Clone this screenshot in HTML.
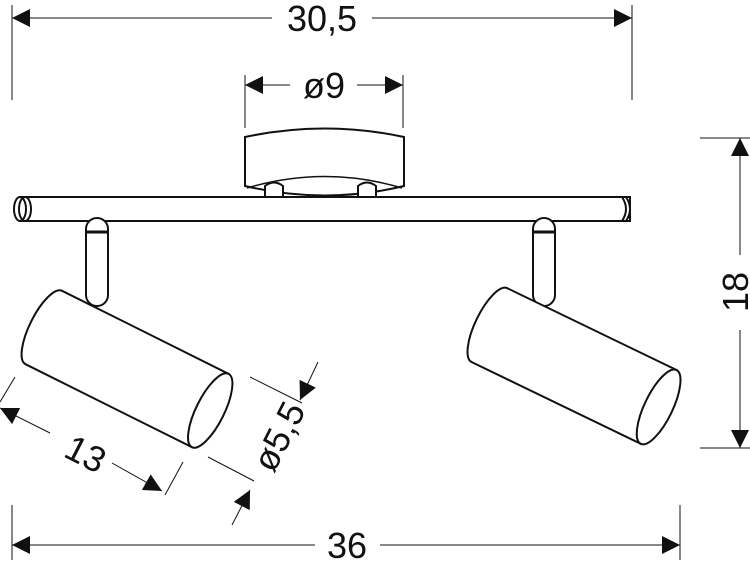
<!DOCTYPE html>
<html><head><style>body{margin:0;background:#fff}svg{display:block}text{font-family:"Liberation Sans",sans-serif;font-size:36px;fill:#111}</style></head>
<body>
<svg width="750" height="566" viewBox="0 0 750 566" xmlns="http://www.w3.org/2000/svg">
<defs>
<marker id="a" viewBox="0 0 10 10" refX="10" refY="5" markerWidth="22" markerHeight="18" markerUnits="userSpaceOnUse" orient="auto-start-reverse"><path d="M0,0L10,5L0,10z" fill="#111"/></marker>
</defs>
<g stroke="#111" stroke-width="1" fill="none">
<line x1="12" y1="5" x2="12" y2="100"/><line x1="632" y1="5" x2="632" y2="100"/>
<line x1="12" y1="18" x2="272" y2="18" marker-start="url(#a)"/>
<line x1="372" y1="18" x2="632" y2="18" marker-end="url(#a)"/>
<line x1="245" y1="75" x2="245" y2="128"/><line x1="403" y1="75" x2="403" y2="128"/>
<line x1="245" y1="85" x2="290" y2="85" marker-start="url(#a)"/>
<line x1="357" y1="85" x2="403" y2="85" marker-end="url(#a)"/>
<line x1="700" y1="138" x2="750" y2="138"/><line x1="700" y1="448" x2="750" y2="448"/>
<line x1="740" y1="138" x2="740" y2="255" marker-start="url(#a)"/>
<line x1="740" y1="330" x2="740" y2="448" marker-end="url(#a)"/>
<line x1="12" y1="505" x2="12" y2="560"/><line x1="680" y1="505" x2="680" y2="560"/>
<line x1="12" y1="545" x2="315" y2="545" marker-start="url(#a)"/>
<line x1="380" y1="545" x2="680" y2="545" marker-end="url(#a)"/>
<line x1="15" y1="377" x2="0" y2="402"/><line x1="183" y1="462" x2="165" y2="495"/>
<line x1="0" y1="408" x2="50" y2="433" marker-start="url(#a)"/>
<line x1="112" y1="463" x2="162" y2="491" marker-end="url(#a)"/>
<line x1="250" y1="377" x2="302" y2="403"/><line x1="208" y1="457" x2="254" y2="481"/>
<line x1="318" y1="362" x2="300" y2="400" marker-end="url(#a)"/>
<line x1="232" y1="525" x2="250" y2="490" marker-end="url(#a)"/>
</g>
<text x="322" y="31" text-anchor="middle">30,5</text>
<text x="324" y="98" text-anchor="middle">ø9</text>
<text x="347" y="558" text-anchor="middle">36</text>
<text transform="translate(748,292) rotate(-90)" text-anchor="middle">18</text>
<text transform="translate(80,465) rotate(27)" text-anchor="middle">13</text>
<text transform="translate(290,442) rotate(-63)" text-anchor="middle">ø5,5</text>
<g stroke="#111" stroke-width="2" fill="#fff">
<path d="M245,137 Q325,120 404,137 L404,186 Q325,205 245,186 Z"/>
<path d="M247,188 Q325,165 402,188" stroke-width="1.5" fill="none"/>
<path d="M265,197 L265,186 Q274,179 283,186 L283,197"/>
<path d="M358,197 L358,186 Q367,179 376,186 L376,197"/>
<rect x="20" y="197" width="610" height="24"/>
<ellipse cx="20" cy="209" rx="6" ry="12"/>
<ellipse cx="25" cy="209" rx="6" ry="12" fill="none"/>
<path d="M626,197 Q634,209 626,221"/>
<path d="M622,197 Q630,209 622,221" fill="none"/>
<rect x="86" y="218" width="22" height="88" rx="11"/>
<line x1="86" y1="232" x2="108" y2="232" stroke-width="3"/>
<rect x="533" y="218" width="22" height="88" rx="11"/>
<line x1="533" y1="232" x2="555" y2="232" stroke-width="3"/>
<g transform="translate(127,369) rotate(26.5)">
<path d="M-93,-41 L93,-41 L93,41 L-93,41 A14,41 0 0 1 -93,-41 Z"/>
<ellipse cx="93" cy="0" rx="14" ry="41"/>
</g>
<g transform="translate(574,366) rotate(25.8)">
<path d="M-94,-41 L94,-41 L94,41 L-94,41 A14,41 0 0 1 -94,-41 Z"/>
<ellipse cx="94" cy="0" rx="14" ry="41"/>
</g>
</g>
</svg>
</body></html>
